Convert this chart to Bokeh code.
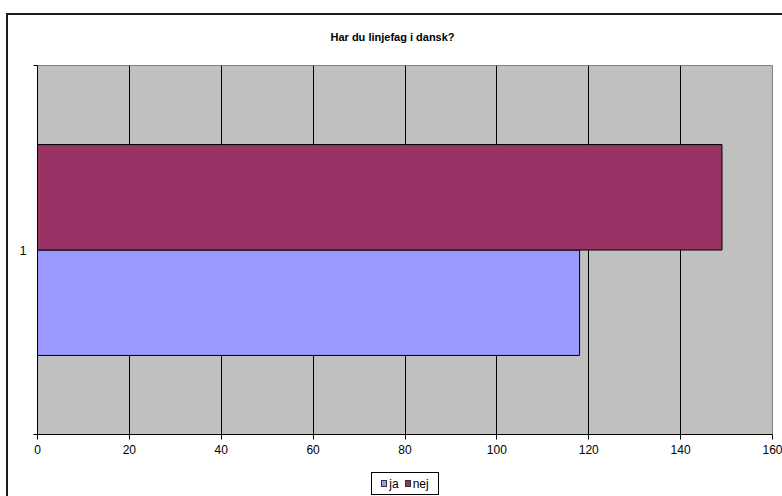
from bokeh.plotting import figure
from bokeh.models import (Range1d, FixedTicker, ColumnDataSource, InlineStyleSheet, Div)
from bokeh.layouts import column
from bokeh.embed import file_html
from bokeh.resources import INLINE

# Survey answers
title_text = "Har du linjefag i dansk?"
categories = ["1"]
series = ["ja", "nej"]
ja_values = [118]
nej_values = [149]
x_ticks = [0, 20, 40, 60, 80, 100, 120, 140, 160]

colors = {"ja": "#9999FF", "nej": "#993366"}
FONT = "Liberation Sans"

# dark frame around the whole chart area (runs past the right edge)
chart_border = InlineStyleSheet(css="""
:host::after {
  content: ""; position: absolute; left: 6px; top: 13px;
  width: 776px; height: 449px; box-sizing: border-box;
  border-left: 2px solid #1a1a1a; border-top: 2px solid #1a1a1a;
  pointer-events: none;
}
""")

p = figure(width=782, height=462, output_backend="svg", toolbar_location=None,
           x_range=Range1d(0, 160), y_range=Range1d(0.5, len(categories) + 0.5),
           min_border_left=37, min_border_right=10, min_border_top=65,
           min_border_bottom=28, background_fill_color="#C0C0C0",
           border_fill_color="white", stylesheets=[chart_border], margin=0)

p.title.text = title_text
p.title.align = "left"
p.title.offset = 293
p.title.standoff = 45
p.title.text_font = FONT
p.title.text_font_size = "11px"
p.title.text_font_style = "bold"
p.title.text_color = "#000000"

# bar group takes 1/(1+gap) of each category slot, Excel gap width 75 %
group = 1 / 1.75
bar_h = group / len(series)
cat_pos = [i + 1 for i in range(len(categories))]

for k, (name, vals) in enumerate([("ja", ja_values), ("nej", nej_values)]):
    ys = [c - group / 2 + bar_h * (k + 0.5) for c in cat_pos]
    src = ColumnDataSource(dict(y=ys, right=vals))
    p.hbar(y="y", right="right", left=0, height=bar_h, source=src,
           fill_color=colors[name], line_color="#000000", line_width=1)

# plot frame
p.outline_line_color = "#808080"
p.outline_line_width = 1
p.ygrid.visible = False
p.xgrid.ticker = FixedTicker(ticks=x_ticks)
p.xgrid.grid_line_color = "#000000"
p.xgrid.grid_line_width = 1

# value axis
p.xaxis.ticker = FixedTicker(ticks=x_ticks)
p.xaxis.axis_line_color = "#000000"
p.xaxis.major_tick_line_color = "#000000"
p.xaxis.major_tick_out = 5
p.xaxis.major_tick_in = 0
p.xaxis.minor_tick_line_color = None
p.xaxis.major_label_text_font = FONT
p.xaxis.major_label_text_font_size = "12px"
p.xaxis.major_label_text_color = "#000000"
p.xaxis.major_label_standoff = 5

# category axis: label in the slot middle, ticks on slot edges
edges = [0.5 + i for i in range(len(categories) + 1)]
p.yaxis.ticker = FixedTicker(ticks=cat_pos, minor_ticks=edges)
p.yaxis.major_label_overrides = {c: lab for c, lab in zip(cat_pos, categories)}
p.yaxis.axis_line_color = "#000000"
p.yaxis.major_tick_line_color = None
p.yaxis.major_tick_out = 0
p.yaxis.minor_tick_line_color = "#000000"
p.yaxis.minor_tick_out = 4
p.yaxis.minor_tick_in = 0
p.yaxis.major_label_text_font = FONT
p.yaxis.major_label_text_font_size = "12px"
p.yaxis.major_label_text_color = "#000000"
p.yaxis.major_label_standoff = 7

# legend strip under the plot
swatch = ('<span style="display:inline-block;width:6px;height:7px;background:{c};'
          'border:1px solid #333;margin-right:2px;"></span>')
entries = "".join(
    '<span style="display:inline-flex;align-items:center;margin:0 3px;">'
    + swatch.format(c=colors[s]) + s + "</span>" for s in series)
legend_html = (
    '<div style="position:relative;width:782px;height:34px;">'
    '<div style="position:absolute;left:6px;top:0;height:34px;'
    'border-left:2px solid #1a1a1a;"></div>'
    '<div style="position:absolute;left:371px;top:10px;width:68px;height:23px;'
    'box-sizing:border-box;border:1px solid #000;background:#fff;'
    f'display:flex;align-items:center;justify-content:center;font-family:\'{FONT}\';'
    'font-size:12px;color:#000;line-height:1;">'
    + entries + "</div></div>")
legend_div = Div(text=legend_html, width=782, height=34, margin=0)

layout = column(p, legend_div, spacing=0, margin=0)

open("out.html", "w").write(file_html(layout, INLINE))
